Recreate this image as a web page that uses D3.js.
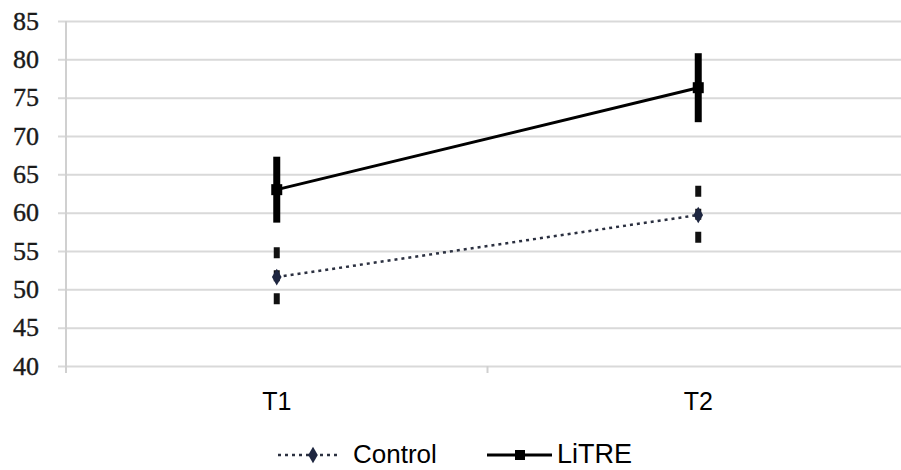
<!DOCTYPE html>
<html>
<head>
<meta charset="utf-8">
<script src="https://cdn.jsdelivr.net/npm/d3@7"></script>
<style>
  body { margin: 0; background: #fff; }
  svg { display: block; }
</style>
</head>
<body>
<div id="chart"></div>
<script>
// Data
var categories = ["T1", "T2"];
var controlMean = [51.6, 59.7];
var controlErr = [3.9, 3.8];
var litreMean = [63.0, 76.3];
var litreErr = [4.3, 4.5];
var yTicks = [40, 45, 50, 55, 60, 65, 70, 75, 80, 85];
var seriesNames = ["Control", "LiTRE"];

var width = 901, height = 470;

var svg = d3.select("#chart")
  .append("svg")
  .attr("width", width)
  .attr("height", height);

// scales
var x = d3.scaleBand().domain(categories).range([66, 909]).padding(0);
var y = d3.scaleLinear().domain([40, 85]).range([366, 21]);

// gridlines
var grid = svg.append("g")
  .attr("transform", "translate(" + width + ",0)")
  .call(d3.axisLeft(y).tickValues(yTicks).tickSize(width - 58).tickFormat(""));
grid.select(".domain").remove();
grid.selectAll("line").attr("stroke", "#d9d9d9").attr("stroke-width", 2);

// y labels
var yAxis = svg.append("g")
  .attr("transform", "translate(66,0)")
  .call(d3.axisLeft(y).tickValues(yTicks).tickSize(0).tickPadding(27));
yAxis.select(".domain").remove();
yAxis.selectAll("text")
  .style("font-family", "'Liberation Serif', 'Times New Roman', serif")
  .style("font-size", "26px")
  .attr("fill", "#1a1a1a")
  .attr("stroke", "#1a1a1a")
  .attr("stroke-width", 0.4);

// vertical axis line
svg.append("line")
  .attr("x1", 66).attr("x2", 66)
  .attr("y1", y(85)).attr("y2", y(40) + 7)
  .attr("stroke", "#d0d0d0").attr("stroke-width", 2);

// x axis
var xAxis = svg.append("g")
  .attr("transform", "translate(0," + y(40) + ")")
  .call(d3.axisBottom(x).tickSize(0).tickPadding(26));
xAxis.select(".domain").remove();
xAxis.selectAll("text")
  .style("font-family", "'Liberation Sans', Arial, sans-serif")
  .style("font-size", "25px")
  .attr("fill", "#000");

// band boundary ticks
var edges = categories.map(function(d) { return x(d); }).concat([x.range()[1]]);
svg.selectAll(".xtick").data(edges).enter()
  .append("line")
  .attr("class", "xtick")
  .attr("x1", function(d) { return d; })
  .attr("x2", function(d) { return d; })
  .attr("y1", y(40)).attr("y2", y(40) + 7)
  .attr("stroke", "#d0d0d0").attr("stroke-width", 2);

var cx = function(i) { return x(categories[i]) + x.bandwidth() / 2; };

var controlData = categories.map(function(c, i) { return {i: i, m: controlMean[i], e: controlErr[i]}; });
var litreData = categories.map(function(c, i) { return {i: i, m: litreMean[i], e: litreErr[i]}; });

var line = d3.line()
  .x(function(d) { return cx(d.i); })
  .y(function(d) { return y(d.m); });

// Control series
svg.append("path")
  .datum(controlData)
  .attr("d", line)
  .attr("fill", "none")
  .attr("stroke", "#2b3040")
  .attr("stroke-width", 2.5)
  .attr("stroke-dasharray", "3,4");

svg.selectAll(".cerr").data(controlData).enter()
  .append("line")
  .attr("class", "cerr")
  .attr("x1", function(d) { return cx(d.i); })
  .attr("x2", function(d) { return cx(d.i); })
  .attr("y1", function(d) { return y(d.m + d.e); })
  .attr("y2", function(d) { return y(d.m - d.e); })
  .attr("stroke", "#111")
  .attr("stroke-width", 6)
  .attr("stroke-dasharray", "11,12");

var diamond = d3.symbol().type(d3.symbolDiamond).size(80);
svg.selectAll(".cmark").data(controlData).enter()
  .append("path")
  .attr("class", "cmark")
  .attr("d", diamond)
  .attr("transform", function(d) { return "translate(" + cx(d.i) + "," + y(d.m) + ")"; })
  .attr("fill", "#1e2640");

// LiTRE series
svg.append("path")
  .datum(litreData)
  .attr("d", line)
  .attr("fill", "none")
  .attr("stroke", "#000")
  .attr("stroke-width", 3);

svg.selectAll(".lerr").data(litreData).enter()
  .append("line")
  .attr("class", "lerr")
  .attr("x1", function(d) { return cx(d.i); })
  .attr("x2", function(d) { return cx(d.i); })
  .attr("y1", function(d) { return y(d.m + d.e); })
  .attr("y2", function(d) { return y(d.m - d.e); })
  .attr("stroke", "#000")
  .attr("stroke-width", 7);

svg.selectAll(".lmark").data(litreData).enter()
  .append("rect")
  .attr("class", "lmark")
  .attr("x", function(d) { return cx(d.i) - 5.5; })
  .attr("y", function(d) { return y(d.m) - 5.5; })
  .attr("width", 11).attr("height", 11)
  .attr("fill", "#000");

// legend
var legendY = 455;
var legend = svg.append("g");

legend.append("line")
  .attr("x1", 278).attr("x2", 338)
  .attr("y1", legendY).attr("y2", legendY)
  .attr("stroke", "#2b3040").attr("stroke-width", 2.5)
  .attr("stroke-dasharray", "3,4");
legend.append("path")
  .attr("d", diamond)
  .attr("transform", "translate(313," + legendY + ")")
  .attr("fill", "#1e2640");
legend.append("text")
  .attr("x", 353).attr("y", 463)
  .style("font-family", "'Liberation Sans', Arial, sans-serif")
  .style("font-size", "26px")
  .text(seriesNames[0]);

legend.append("line")
  .attr("x1", 487).attr("x2", 552)
  .attr("y1", legendY).attr("y2", legendY)
  .attr("stroke", "#000").attr("stroke-width", 3);
legend.append("rect")
  .attr("x", 515).attr("y", legendY - 5)
  .attr("width", 10).attr("height", 10)
  .attr("fill", "#000");
legend.append("text")
  .attr("x", 557).attr("y", 463)
  .style("font-family", "'Liberation Sans', Arial, sans-serif")
  .style("font-size", "27px")
  .text(seriesNames[1]);
</script>
</body>
</html>
